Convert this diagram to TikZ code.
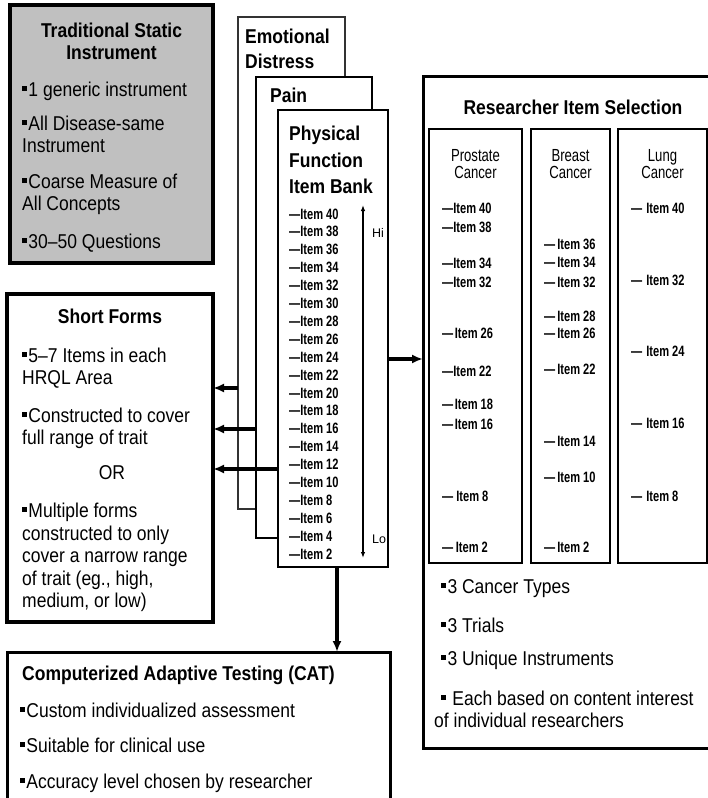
\documentclass[tikz,border=0pt]{standalone}
\usepackage{fontspec}
\usetikzlibrary{arrows.meta}
\newfontfamily\mainf{Liberation Sans}[FakeStretch=0.875]
\newfontfamily\itemf{Liberation Sans}[FakeStretch=0.74]
\newfontfamily\headf{Liberation Sans}[FakeStretch=0.75]
\newfontfamily\smallf{Liberation Sans}
% small square bullet
\newcommand\blt{\rule[5.5pt]{4.8pt}{4.8pt}\hspace{1.5pt}}
\definecolor{panelgray}{HTML}{C0C0C0}

\begin{document}
\begin{tikzpicture}[x=1pt,y=-1pt,
  panel/.style={draw=black, fill=white, anchor=north west, inner sep=0pt, outer sep=0pt},
  txt/.style={font=\mainf\fontsize{20}{22}\selectfont, inner sep=0pt, anchor=base west},
  ctxt/.style={txt, anchor=base},
  bold/.style={font=\mainf\bfseries\fontsize{20}{22}\selectfont, inner sep=0pt, anchor=base west},
  cbold/.style={bold, anchor=base},
  itm/.style={font=\itemf\bfseries\fontsize{15}{16}\selectfont, inner sep=0pt, anchor=base west},
  colhead/.style={font=\headf\fontsize{17.5}{17}\selectfont, inner sep=0pt, anchor=base},
  hilotext/.style={font=\smallf\fontsize{12.5}{14}\selectfont, inner sep=0pt, anchor=base west},
  arr/.style={line width=3.2pt, -{Latex[length=11pt,width=9pt]}},
  hilo/.style={line width=1.3pt, {Latex[length=6pt,width=4.5pt]}-{Latex[length=6pt,width=4.5pt]}}
]
\path[use as bounding box] (0,0) rectangle (708,798);
\clip (0,0) rectangle (708,798);

% ---------- left column panels ----------
\node[panel, fill=panelgray, line width=3.3pt, minimum width=203pt, minimum height=258pt] (trad) at (10,5) {};
\node[panel, line width=3.5pt, minimum width=206pt, minimum height=328pt] (sf) at (7,294) {};
\node[panel, line width=3pt, minimum width=383pt, minimum height=160pt] (cat) at (7,652) {};

% ---------- stacked item banks ----------
\node[panel, draw=black!80, line width=1.6pt, minimum width=107pt, minimum height=492pt] (ed) at (238,17) {};
\node[panel, line width=2pt, minimum width=116pt, minimum height=461pt] (pain) at (256,77) {};
\node[panel, line width=2.2pt, minimum width=110pt, minimum height=457pt] (pf) at (278,110) {};

% ---------- researcher selection ----------
\node[panel, line width=3pt, minimum width=295pt, minimum height=672pt] (ris) at (423,76) {};
\node[panel, line width=2pt, minimum width=93pt, minimum height=434pt] (c1) at (429,129) {};
\node[panel, line width=2pt, minimum width=79pt, minimum height=434pt] (c2) at (531,129) {};
\node[panel, line width=2pt, minimum width=89pt, minimum height=434pt] (c3) at (618,129) {};

% ---------- connectors ----------
\coordinate (ya) at (0,388);
\coordinate (yb) at (0,429);
\coordinate (yc) at (0,469);
\coordinate (yd) at (0,359);
\coordinate (xc) at (337,0);
\draw[arr] (ed.west |- ya) -- (sf.east |- ya);
\draw[arr] (pain.west |- yb) -- (sf.east |- yb);
\draw[arr] (pf.west |- yc) -- (sf.east |- yc);
\draw[arr] (pf.east |- yd) -- (ris.west |- yd);
\draw[arr] (pf.south -| xc) -- (cat.north -| xc);

% Hi-Lo scale
\coordinate (hiT) at (363,205);
\coordinate (loB) at (363,558);
\draw[hilo] (hiT) -- (loB);
\node[hilotext] (hi) at (372,237) {Hi};
\node[hilotext] (lo) at (372,543) {Lo};

% ---------- texts: traditional instrument ----------
\node[cbold] (tr1) at (111.5,37) {Traditional Static};
\node[cbold] (tr2) at (111.5,59) {Instrument};
\node[txt] (tr3) at (22,96) {\blt 1 generic instrument};
\node[txt] (tr4) at (22,130) {\blt All Disease-same};
\node[txt] (tr5) at (22,152) {Instrument};
\node[txt] (tr6) at (22,188) {\blt Coarse Measure of};
\node[txt] (tr7) at (22,210) {All Concepts};
\node[txt] (tr8) at (22,248) {\blt 30–50 Questions};

% ---------- texts: short forms ----------
\node[cbold] (sf1) at (110,323) {Short Forms};
\node[txt] (sf2) at (22,362) {\blt 5–7 Items in each};
\node[txt] (sf3) at (22,384) {HRQL Area};
\node[txt] (sf4) at (22,422) {\blt Constructed to cover};
\node[txt] (sf5) at (22,444) {full range of trait};
\node[ctxt] (sf6) at (112,479) {OR};
\node[txt] (sf7) at (22,517) {\blt Multiple forms};
\node[txt] (sf8) at (22,540) {constructed to only};
\node[txt] (sf9) at (22,562) {cover a narrow range};
\node[txt] (sf10) at (22,585) {of trait (eg., high,};
\node[txt] (sf11) at (22,607) {medium, or low)};

% ---------- texts: CAT ----------
\node[bold] (ca1) at (22,680) {Computerized Adaptive Testing (CAT)};
\node[txt] (ca2) at (20,717) {\blt Custom individualized assessment};
\node[txt] (ca3) at (20,752) {\blt Suitable for clinical use};
\node[txt] (ca4) at (20,788) {\blt Accuracy level chosen by researcher};

% ---------- texts: item bank stack ----------
\node[bold] (ed1) at (245,43) {Emotional};
\node[bold] (ed2) at (245,68) {Distress};
\node[bold] (pn1) at (270,102) {Pain};
\node[bold] (pf1) at (289,140) {Physical};
\node[bold] (pf2) at (289,167) {Function};
\node[bold] (pf3) at (289,193) {Item Bank};
\foreach \n [count=\k from 0] in {40,38,...,2}
  \node[itm] (bank\n) at (289,219+17.9*\k) {—Item \n};

% ---------- texts: researcher selection ----------
\node[cbold] (rs1) at (573,114) {Researcher Item Selection};
\node[colhead] (h1a) at (475.5,161) {Prostate};
\node[colhead] (h1b) at (475.5,178) {Cancer};
\node[colhead] (h2a) at (570.5,161) {Breast};
\node[colhead] (h2b) at (570.5,178) {Cancer};
\node[colhead] (h3a) at (662.5,161) {Lung};
\node[colhead] (h3b) at (662.5,178) {Cancer};

\foreach \n/\yy/\g in {40/213/0, 38/232/0, 34/268/0, 32/287/0, 26/338/1.5,
                       22/376/0, 18/409/1.5, 16/429/1.5, 8/501/3, 2/552/2.5}
  \node[itm] (pc\n) at (442,\yy) {—\hspace{\g pt}Item \n};
\foreach \n/\yy in {36/249, 34/267, 32/287, 28/321, 26/338, 22/374, 14/446, 10/482, 2/552}
  \node[itm] (bc\n) at (544,\yy) {—\hspace{2pt}Item \n};
\foreach \n/\yy in {40/213, 32/285, 24/356, 16/428, 8/501}
  \node[itm] (lc\n) at (631,\yy) {—\hspace{4pt}Item \n};

\node[txt] (rb1) at (441,593) {\blt 3 Cancer Types};
\node[txt] (rb2) at (441,632) {\blt 3 Trials};
\node[txt] (rb3) at (441,665) {\blt 3 Unique Instruments};
\node[txt] (rb4) at (441,705) {\blt\ Each based on content interest};
\node[txt] (rb5) at (434,727) {of individual researchers};
\end{tikzpicture}
\end{document}
